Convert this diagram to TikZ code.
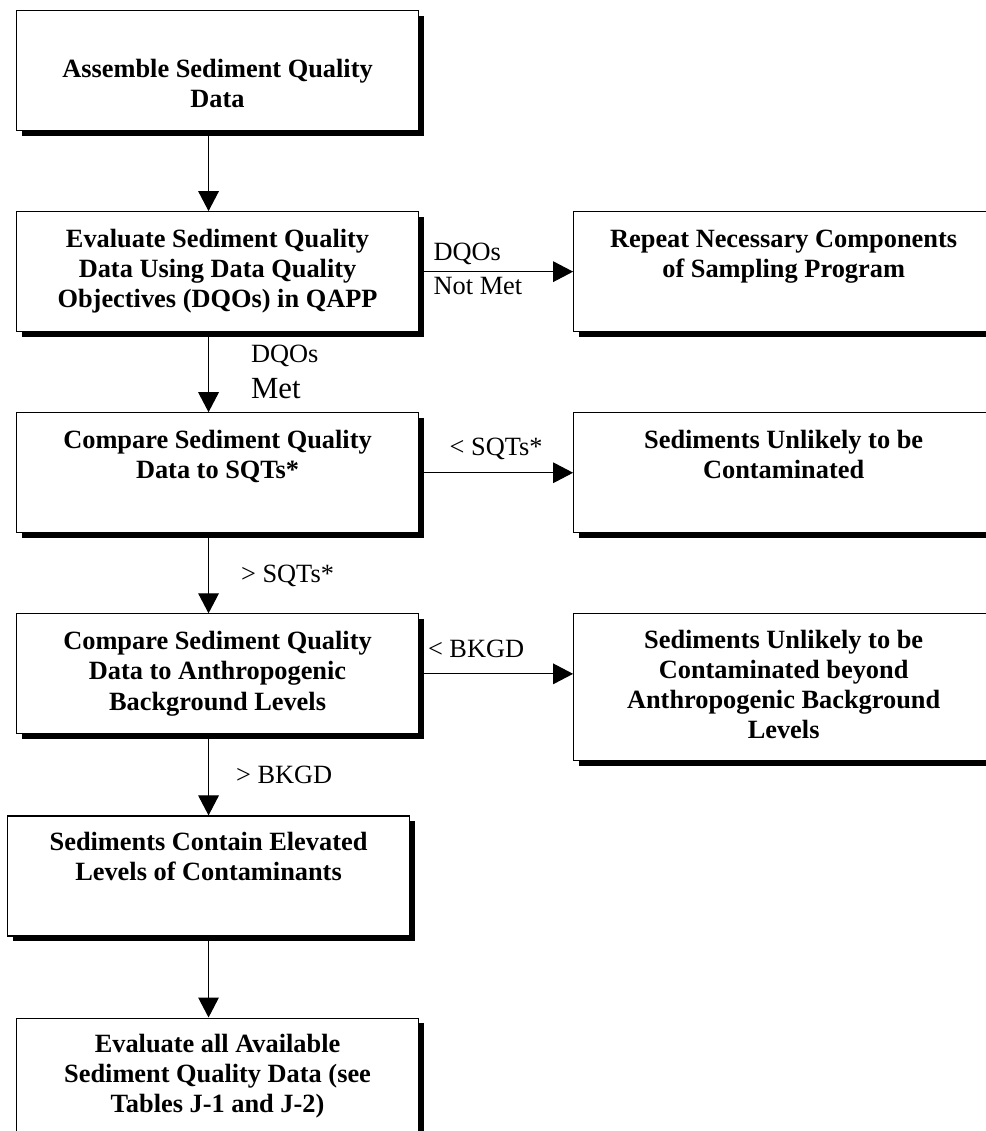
\documentclass[tikz,border=0pt]{standalone}
\usepackage{fontspec}
\setmainfont{Liberation Serif}
\usepackage{xcolor}
\usepackage{tikz}
\usetikzlibrary{calc,positioning,arrows.meta,shadows}
\newcommand{\BoxF}{\fontsize{12}{13.7}\selectfont\bfseries}
\newcommand{\LabF}{\fontsize{12}{13.7}\selectfont}
\newcommand{\BigLab}{\fontsize{14}{16.4}\selectfont}
% fixed-size box text, set from the top
\newcommand{\Stage}[4][6.8pt]{\parbox[c][#2][t]{#3}{\centering\vspace*{#1}\strut#4\par}}
\tikzset{
  >={Triangle[length=3.2mm,width=3.3mm]},
  % diagram blocks
  stage/.style={draw=black, line width=0.5pt, fill=white, inner sep=0pt, font=\BoxF,
                drop shadow={shadow xshift=0.8mm, shadow yshift=-0.8mm, fill=black, opacity=1}},
  flow/.style={->, line width=0.5pt, draw=black},
  lab/.style={inner sep=0pt, font=\LabF, text=black, text depth=0pt},
}
\begin{document}
\begin{tikzpicture}
      \useasboundingbox (0,0) rectangle (157.76mm,-180.96mm);
      \clip (0,0) rectangle (157.76mm,-180.96mm);
      \node[stage, anchor=north west] (assemble) at (2.56mm,-1.6mm)
        {\Stage[20.9pt]{19.2mm}{64.32mm}{Assemble Sediment Quality\\ Data}};
      \node[stage, below=12.8mm of assemble] (evaluate)
        {\Stage{19.2mm}{64.32mm}{Evaluate Sediment Quality\\ Data Using Data Quality\\ Objectives (DQOs) in QAPP}};
      \node[stage, below=12.8mm of evaluate] (compare)
        {\Stage{19.2mm}{64.32mm}{Compare Sediment Quality\\ Data to SQTs*}};
      \node[stage, below=12.8mm of compare] (cmpbg)
        {\Stage{19.2mm}{64.32mm}{Compare Sediment Quality\\ Data to Anthropogenic\\ Background Levels}};
      \node[stage, below=12.96mm of cmpbg, xshift=-1.44mm] (elevated)
        {\Stage[6.2pt]{19.2mm}{64.32mm}{Sediments Contain Elevated\\ Levels of Contaminants}};
      \node[stage, below=12.96mm of elevated, xshift=1.44mm] (evalall)
        {\Stage[6.2pt]{19.2mm}{64.32mm}{Evaluate all Available\\ Sediment Quality Data (see\\ Tables J-1 and J-2)}};
      \node[stage, right=24.64mm of evaluate] (repeat)
        {\Stage{19.2mm}{67.2mm}{Repeat Necessary Components\\ of Sampling Program}};
      \node[stage, right=24.64mm of compare] (unlikely)
        {\Stage{19.2mm}{67.2mm}{Sediments Unlikely to be\\ Contaminated}};
      \node[stage, right=24.64mm of cmpbg.north east, anchor=north west] (beyond)
        {\Stage[6.2pt]{23.52mm}{67.2mm}{Sediments Unlikely to be\\ Contaminated beyond\\ Anthropogenic Background\\ Levels}};
      \draw[flow] ([xshift=-1.44mm]assemble.south) -- ([xshift=-1.44mm]evaluate.north);
      \draw[flow] ([xshift=-1.44mm]evaluate.south) -- ([xshift=-1.44mm]compare.north)
        node[lab, midway, anchor=west, xshift=6.72mm, align=left] {DQOs\\[2.7pt]{\BigLab Met}};
      \draw[flow] ([xshift=-1.44mm]compare.south) -- ([xshift=-1.44mm]cmpbg.north)
        node[lab, midway, anchor=west, xshift=5.12mm] {> SQTs*};
      \draw[flow] ([xshift=-1.44mm]cmpbg.south) -- (elevated.north)
        node[lab, midway, anchor=west, xshift=4.32mm] {> BKGD};
      \draw[flow] (elevated.south) -- (elevated.south |- evalall.north);
      \draw[flow] (evaluate.east) -- (repeat.west)
        node[lab, pos=0, anchor=south west, xshift=2.24mm, yshift=5pt] {DQOs}
        node[lab, pos=0, anchor=north west, xshift=2.24mm, yshift=-2.3pt] {Not Met};
      \draw[flow] (compare.east) -- (unlikely.west)
        node[lab, midway, above=7.4pt] {< SQTs*};
      \draw[flow] (cmpbg.east) -- (cmpbg.east -| beyond.west)
        node[lab, pos=0.37, above=7pt] {< BKGD};
    \end{tikzpicture}
\end{document}
